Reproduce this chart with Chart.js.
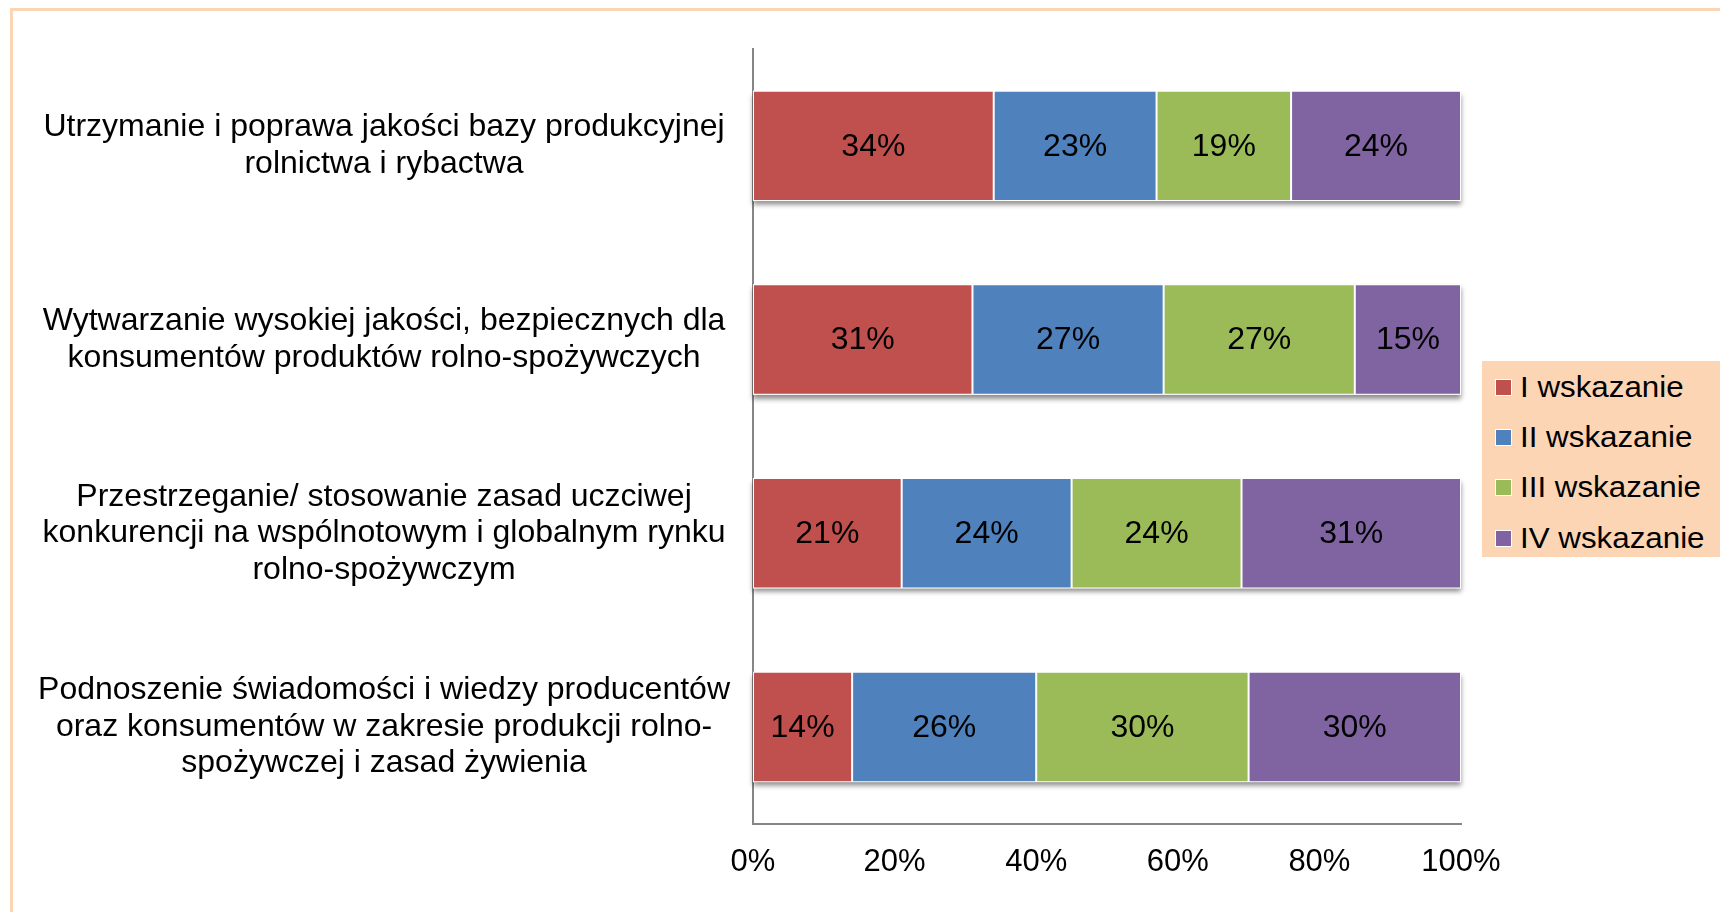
<!DOCTYPE html>
<html>
<head>
<meta charset="utf-8">
<script src="https://cdn.jsdelivr.net/npm/chart.js@4.4.1/dist/chart.umd.min.js"></script>
<style>
  html, body { margin: 0; padding: 0; background: #fff; }
  #wrap { position: relative; width: 1720px; height: 912px; overflow: hidden; }
  #frame { position: absolute; left: 10px; top: 8px; width: 1800px; height: 1000px;
           border-left: 3px solid #fbd6b4; border-top: 3px solid #fbd6b4; box-sizing: border-box; }
  #chartBox { position: absolute; left: 0; top: 0; width: 1720px; height: 912px; }
  #legend { position: absolute; left: 1482px; top: 361px; width: 238px; height: 196px;
            background: #fcd5b5; font-family: "Liberation Sans", Arial, sans-serif; }
  .item { position: absolute; left: 13px; height: 30px; display: flex; align-items: center; }
  .sw { width: 15px; height: 15px; border: 1px solid #fff; box-sizing: content-box; margin-right: 8px; }
  .lbl { font-size: 29px; color: #000; transform: scaleX(1.08); transform-origin: left center; white-space: nowrap; }
</style>
</head>
<body>
<div id="wrap">
  <div id="frame"></div>
  <div id="chartBox"><canvas id="barChart"></canvas></div>
  <div id="legend"></div>
</div>
<script>
const categories = [
    ['Utrzymanie i poprawa jakości bazy produkcyjnej', 'rolnictwa i rybactwa'],
    ['Wytwarzanie wysokiej jakości, bezpiecznych dla', 'konsumentów produktów rolno-spożywczych'],
    ['Przestrzeganie/ stosowanie zasad uczciwej', 'konkurencji na wspólnotowym i globalnym rynku', 'rolno-spożywczym'],
    ['Podnoszenie świadomości i wiedzy producentów', 'oraz konsumentów w zakresie produkcji rolno-', 'spożywczej i zasad żywienia']
];
const seriesNames = ['I wskazanie', 'II wskazanie', 'III wskazanie', 'IV wskazanie'];
const firstChoice = [34, 31, 21, 14];
const secondChoice = [23, 27, 24, 26];
const thirdChoice = [19, 27, 24, 30];
const fourthChoice = [24, 15, 31, 30];
const colors = ['#c0504d', '#4f81bd', '#9bbb59', '#8064a2'];
const xTicks = [0, 20, 40, 60, 80, 100];

const FONT = '"Liberation Sans", Arial, sans-serif';

// soft shadow under each stacked bar
const barShadow = {
    id: 'barShadow',
    beforeDatasetsDraw(chart) {
        const ctx = chart.ctx;
        const metas = chart.getSortedVisibleDatasetMetas();
        ctx.save();
        ctx.shadowColor = 'rgba(0,0,0,0.45)';
        ctx.shadowBlur = 5;
        ctx.shadowOffsetY = 4;
        ctx.fillStyle = '#ffffff';
        categories.forEach((c, i) => {
            let left = Infinity, right = -Infinity, y = 0, h = 0;
            metas.forEach(m => {
                const el = m.data[i];
                left = Math.min(left, el.base, el.x);
                right = Math.max(right, el.base, el.x);
                y = el.y; h = el.height;
            });
            ctx.fillRect(left, y - h / 2, right - left, h);
        });
        ctx.restore();
    }
};

// value labels in the middle of each segment
const valueLabels = {
    id: 'valueLabels',
    afterDatasetsDraw(chart) {
        const ctx = chart.ctx;
        ctx.save();
        ctx.font = '32px ' + FONT;
        ctx.fillStyle = '#000';
        ctx.textAlign = 'center';
        ctx.textBaseline = 'middle';
        chart.getSortedVisibleDatasetMetas().forEach((m, di) => {
            m.data.forEach((el, i) => {
                const p = el.getCenterPoint();
                ctx.fillText(chart.data.datasets[di].data[i] + '%', p.x, p.y + 1);
            });
        });
        ctx.restore();
    }
};

const datasets = [firstChoice, secondChoice, thirdChoice, fourthChoice].map((d, i) => ({
    label: seriesNames[i],
    data: d,
    backgroundColor: colors[i],
    borderColor: '#ffffff',
    borderWidth: 1,
    borderSkipped: false,
    categoryPercentage: 1,
    barPercentage: 0.57
}));

const ctx = document.getElementById('barChart').getContext('2d');
new Chart(ctx, {
    type: 'bar',
    data: { labels: categories, datasets: datasets },
    options: {
        indexAxis: 'y',
        responsive: true,
        maintainAspectRatio: false,
        animation: false,
        layout: { padding: { top: 49, right: 259, bottom: 11, left: 0 } },
        plugins: { legend: { display: false }, tooltip: { enabled: false } },
        scales: {
            x: {
                stacked: true,
                min: 0,
                max: 100,
                afterBuildTicks: scale => { scale.ticks = xTicks.map(v => ({ value: v })); },
                ticks: {
                    padding: 20,
                    color: '#000',
                    font: { family: FONT, size: 31 },
                    maxRotation: 0,
                    callback: v => v + '%'
                },
                grid: { display: false, drawTicks: false },
                border: { display: true, color: '#868686', width: 2 }
            },
            y: {
                stacked: true,
                afterFit: scale => {
                    scale.width = 753;
                    scale.paddingTop = 0;
                    scale.paddingBottom = 0;
                },
                ticks: {
                    padding: 23,
                    crossAlign: 'center',
                    color: '#000',
                    font: { family: FONT, size: 32, lineHeight: 1.14 }
                },
                grid: { display: false, drawTicks: false },
                border: { display: true, color: '#868686', width: 2 }
            }
        }
    },
    plugins: [barShadow, valueLabels]
});

// legend from the same series names and colours
const legend = document.getElementById('legend');
const rowCenters = [26, 76, 126, 177];
seriesNames.forEach((name, i) => {
    const item = document.createElement('div');
    item.className = 'item';
    item.style.top = (rowCenters[i] - 15) + 'px';
    item.innerHTML = '<div class="sw" style="background:' + colors[i] + '"></div><span class="lbl">' + name + '</span>';
    legend.appendChild(item);
});
</script>
</body>
</html>
